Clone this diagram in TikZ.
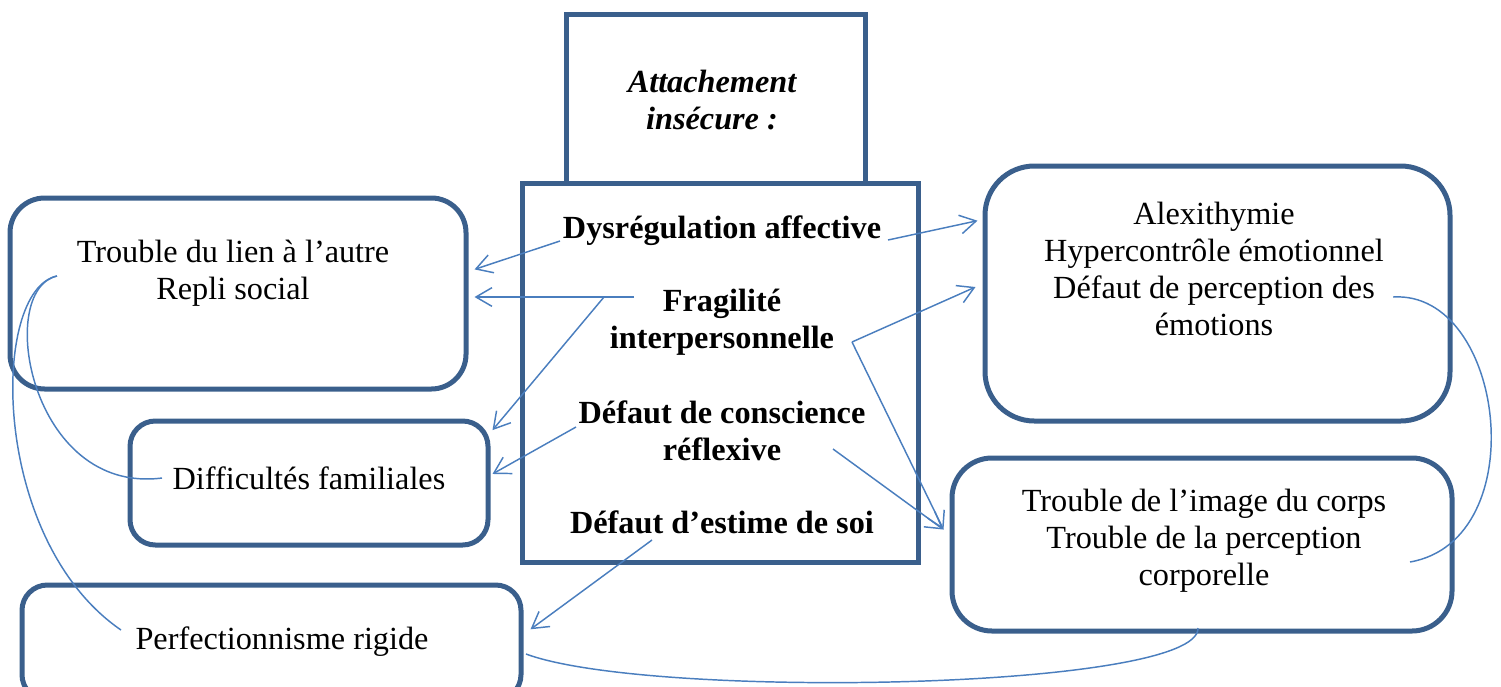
\documentclass[tikz,border=0pt]{standalone}
\usepackage{fontspec}
\setmainfont{Liberation Serif}
\usetikzlibrary{arrows.meta,calc}
\definecolor{boxblue}{RGB}{58,95,140}
\definecolor{linkblue}{RGB}{74,126,190}

\tikzset{every picture/.style={line width=0.75pt}}
\tikzset{
	boxframe/.style={draw=boxblue, line width=3.75pt, inner sep=0pt},
	txt/.style={inner sep=0pt, align=center, font=\fontsize{24.2}{27.75}\selectfont},
	boldtxt/.style={txt, font=\fontsize{24.2}{27.75}\selectfont\bfseries},
	link/.style={draw=linkblue, line width=1.1pt, -{Straight Barb[length=12pt,width=14pt]}},
	curl/.style={draw=linkblue, line width=1.1pt}
}

\begin{document}
\begin{tikzpicture}[x=0.75pt,y=0.75pt,yscale=-1,xscale=1]
		\useasboundingbox (0,0) rectangle (1501,686);
		\clip (0,0) rectangle (1501,686);
		
		%boxes
		\node [boxframe, minimum width=224.25pt, minimum height=126.75pt] (top) at (715.5,98.5) {};
		\node [boxframe, minimum width=297pt, minimum height=284.25pt] (core) at (720,372.5) {};
		\node [boxframe, rounded corners=26pt, minimum width=342pt, minimum height=143.25pt] (lien) at (238,293.5) {};
		\node [boxframe, rounded corners=19pt, minimum width=268.5pt, minimum height=93pt] (fam) at (309,483) {};
		\node [boxframe, rounded corners=19pt, minimum width=374.25pt, minimum height=86.25pt] (perf) at (271.5,642.5) {};
		\node [boxframe, rounded corners=37pt, minimum width=348.75pt, minimum height=191.25pt] (alex) at (1217.5,293.5) {};
		\node [boxframe, rounded corners=30pt, minimum width=375pt, minimum height=129.75pt] (corps) at (1202,544.5) {};
		
		%texts
		\node [boldtxt, font=\fontsize{24.2}{27.75}\selectfont\bfseries\itshape] (attach) at (712,100) {Attachement\\insécure :};
		\node [boldtxt] (dys) at (722,231) {Dysrégulation affective};
		\node [boldtxt] (frag) at (722,322) {Fragilité\\interpersonnelle};
		\node [boldtxt] (refl) at (722,431) {Défaut de conscience\\réflexive};
		\node [boldtxt] (estime) at (722,522) {Défaut d’estime de soi};
		\node [txt] (lientxt) at (233,273) {Trouble du lien à l’autre\\Repli social};
		\node [txt] (famtxt) at (309,478) {Difficultés familiales};
		\node [txt] (perftxt) at (282,642) {Perfectionnisme rigide};
		\node [txt] (alextxt) at (1214,269) {Alexithymie\\Hypercontrôle émotionnel\\Défaut de perception des\\émotions};
		\node [txt] (corpstxt) at (1204,541) {Trouble de l’image du corps\\Trouble de la perception\\corporelle};
		
		%line ends
		\coordinate (dysL) at (560,241);
		\coordinate (dysR) at (888,240);
		\coordinate (fragL) at (634,297);
		\coordinate (fragK) at (604,297);
		\coordinate (fragR) at (852,342);
		\coordinate (reflL) at (576,427);
		\coordinate (reflR) at (833,449);
		\coordinate (estL) at (652,540);
		
		%arrows
		\draw [link] (dysL) -- ($(lien.north east)!0.377!(lien.south east)+(6,0)$);
		\draw [link] (dysR) -- ($(alex.north west)!0.22!(alex.south west)+(-5,0)$);
		\draw [link] (fragL) -- ($(fragL -| lien.east)+(6,0)$);
		\draw [link] (fragK) -- ($(fam.north east)!0.09!(fam.south east)+(2,0)$);
		\draw [link] (fragR) -- ($(alex.north west)!0.475!(alex.south west)+(-7,0)$);
		\draw [link] (fragR) -- ($(corps.north west)!0.416!(corps.south west)+(-6,0)$);
		\draw [link] (reflL) -- ($(fam.north east)!0.43!(fam.south east)+(2,0)$);
		\draw [link] (reflR) -- ($(corps.north west)!0.416!(corps.south west)+(-6,0)$);
		\draw [link] (estL) -- ($(perf.north east)!0.39!(perf.south east)+(7,0)$);
		
		%Curve Lines
		\coordinate (lienC) at (57,276);
		\coordinate (famC) at (162,478);
		\coordinate (perfC) at (121,630);
		\coordinate (alexC) at (1393,297);
		\coordinate (corpsC) at (1410,562);
		\coordinate (perfD) at (526,654);
		\coordinate (corpsD) at (1198,628);
		\draw [curl] (lienC) .. controls (-5,290) and (30,495) .. (famC);
		\draw [curl] (lienC) .. controls (-10,290) and (-10,540) .. (perfC);
		\draw [curl] (alexC) .. controls (1505,290) and (1535,540) .. (corpsC);
		\draw [curl] (perfD) .. controls (650,700) and (1200,690) .. (corpsD);
		
	\end{tikzpicture}
\end{document}
